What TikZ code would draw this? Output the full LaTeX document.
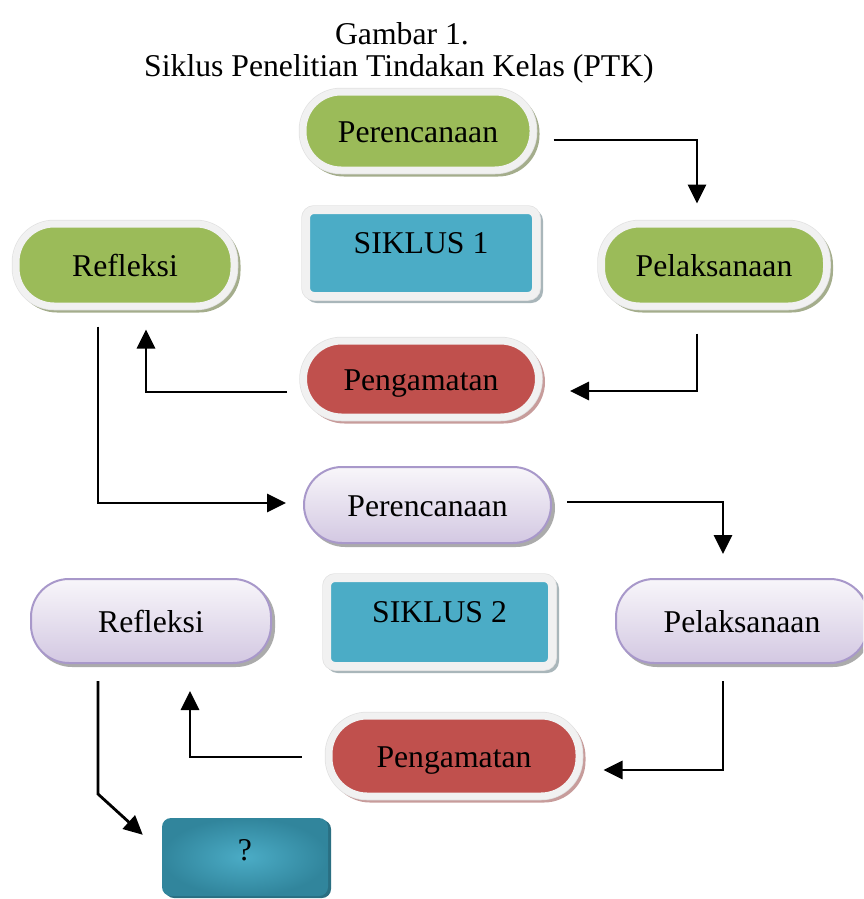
\documentclass[tikz,border=0pt]{standalone}
\usepackage{fontspec}
\setmainfont{Liberation Serif}
\usetikzlibrary{arrows.meta}
\definecolor{pgreen}{HTML}{9BBB59}
\definecolor{gshadow}{HTML}{A4AD8C}
\definecolor{pred}{HTML}{C0504D}
\definecolor{rshadow}{HTML}{C79C9B}
\definecolor{pblue}{HTML}{4BACC6}
\definecolor{bshadow}{HTML}{A9B6BA}
\definecolor{ringc}{HTML}{F1F1F1}
\definecolor{ringedge}{HTML}{E2E2E2}
\definecolor{pborder}{HTML}{A898CA}
\definecolor{ptop}{HTML}{F8F6FA}
\definecolor{pbot}{HTML}{D3C8E2}
\definecolor{pshadow}{HTML}{ABABAB}
\definecolor{qout}{HTML}{31859C}
\definecolor{qin}{HTML}{4BACC6}
\definecolor{qshadow}{HTML}{2A6F82}
\newcommand{\boxfont}{\fontsize{31.7}{36}\selectfont}
\tikzset{
  pill/.style={rectangle, rounded corners=38pt, inner sep=0pt,
    font=\boxfont, text height=22pt, text depth=0pt},
  ringpill/.style n args={2}{pill, draw=ringc, line width=7pt, fill=#1,
    preaction={fill=#2, draw=#2, line width=7pt,
      transform canvas={shift={(3pt,-3pt)}}},
    preaction={draw=ringedge, line width=8.5pt}},
  greenpill/.style={ringpill={pgreen}{gshadow}},
  redpill/.style={ringpill={pred}{rshadow}},
  purplepill/.style={pill, draw=pborder, line width=2pt,
    top color=ptop, bottom color=pbot,
    preaction={fill=pshadow, draw=pshadow, line width=2pt,
      transform canvas={shift={(3pt,-3pt)}}}},
  siklusbox/.style={rectangle, rounded corners=8pt, inner sep=0pt,
    draw=ringc, line width=8pt, fill=pblue,
    font=\boxfont, text height=22pt, text depth=22pt,
    preaction={fill=bshadow, draw=bshadow, line width=8pt,
      transform canvas={shift={(3pt,-3pt)}}},
    preaction={draw=ringedge, line width=9.5pt}},
  qbox/.style={rectangle, rounded corners=9pt, inner sep=0pt,
    inner color=qin, outer color=qout,
    font=\boxfont, text height=22pt, text depth=16pt,
    preaction={fill=qshadow, transform canvas={shift={(3pt,-2pt)}}}},
  arr/.style={line width=2.8pt, -{Triangle[width=18pt,length=19pt]}},
}
\begin{document}
\begin{tikzpicture}[x=1pt,y=-1pt]
\useasboundingbox (0,0) rectangle (863,899);
\clip (0,0) rectangle (863,899);
% title
\node[anchor=base, font=\boxfont] (t1) at (402,45) {Gambar 1.};
\node[anchor=base, font=\boxfont] (t2) at (399,76) {Siklus Penelitian Tindakan Kelas (PTK)};
% cycle 1
\node[greenpill, minimum width=230pt, minimum height=78pt] (P1) at (418,131) {Perencanaan};
\node[greenpill, minimum width=218pt, minimum height=82pt] (R1) at (125,265) {Refleksi};
\node[greenpill, minimum width=225pt, minimum height=82pt] (PL1) at (714,265) {Pelaksanaan};
\node[siklusbox, minimum width=230pt, minimum height=86pt] (S1) at (421,253) {SIKLUS 1};
\node[redpill, minimum width=235pt, minimum height=76pt] (PG1) at (421,379) {Pengamatan};
% cycle 2
\node[purplepill, minimum width=247pt, minimum height=76pt] (P2) at (427.5,505) {Perencanaan};
\node[purplepill, minimum width=240pt, minimum height=84pt] (R2) at (151,621) {Refleksi};
\node[purplepill, minimum width=252pt, minimum height=84pt] (PL2) at (742,621) {Pelaksanaan};
\node[siklusbox, minimum width=225pt, minimum height=88pt] (S2) at (439.5,622) {SIKLUS 2};
\node[redpill, minimum width=250pt, minimum height=80pt] (PG2) at (454,756) {Pengamatan};
\node[qbox, minimum width=166pt, minimum height=78pt] (Q) at (245,857) {?};
% connectors
\draw[arr] ([xshift=17pt,yshift=-9pt]P1.east) -| ([xshift=-17pt,yshift=17pt]PL1.north);
\draw[arr] ([xshift=-17pt,yshift=-24pt]PL1.south) |- ([xshift=28pt,yshift=-12pt]PG1.east);
\draw[arr] ([xshift=-13pt,yshift=-13pt]PG1.west) -| ([xshift=21pt,yshift=-20pt]R1.south);
\draw[arr] ([xshift=-27pt,yshift=-17pt]R1.south) |- ([xshift=-17pt,yshift=2pt]P2.west);
\draw[arr] ([xshift=15pt,yshift=3pt]P2.east) -| ([xshift=-19pt,yshift=24pt]PL2.north);
\draw[arr] ([xshift=-19pt,yshift=-17pt]PL2.south) |- ([xshift=21pt,yshift=-14pt]PG2.east);
\draw[arr] ([xshift=-24pt,yshift=-1pt]PG2.west) -| ([xshift=39pt,yshift=-27pt]R2.south);
\draw[arr] ([xshift=-53pt,yshift=-17pt]R2.south) -- ++(0pt,-113pt) -- ([xshift=-19pt,yshift=-17pt]Q.north west);
\end{tikzpicture}
\end{document}
